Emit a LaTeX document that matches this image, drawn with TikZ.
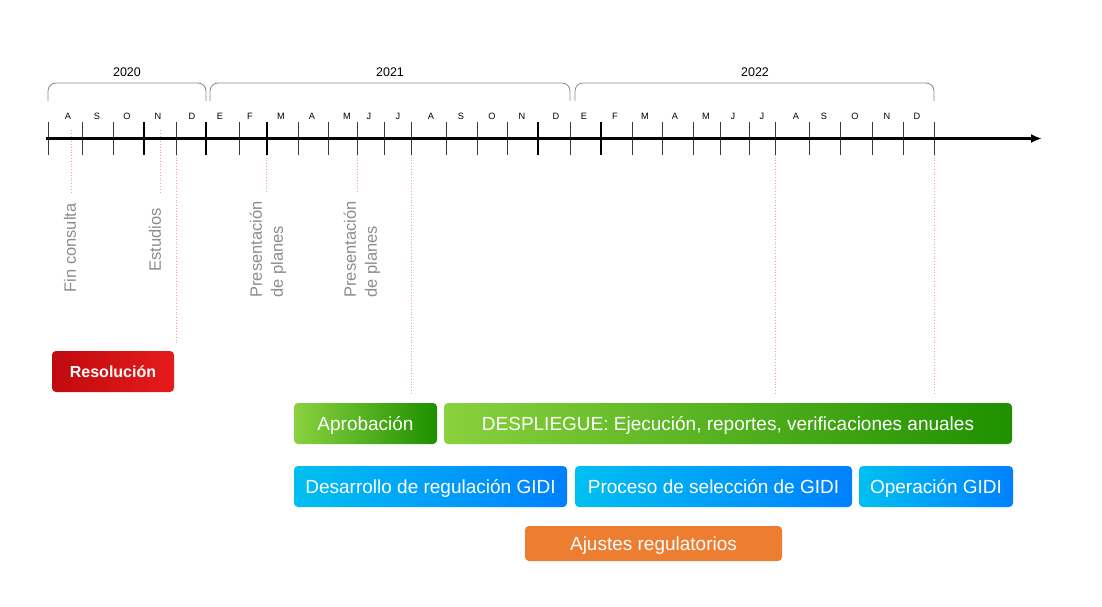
\documentclass[tikz,border=0pt]{standalone}
\usepackage{fontspec}
\setmainfont{Liberation Sans}
\usetikzlibrary{arrows.meta}
\definecolor{tickgray}{HTML}{3A3A3A}
\definecolor{bracegray}{HTML}{8A8A8A}
\definecolor{labelgray}{HTML}{8C8C8C}
\definecolor{pinkline}{HTML}{F2A0A0}
\definecolor{redL}{HTML}{BF0A0E}
\definecolor{redR}{HTML}{E61B1B}
\definecolor{greenL}{HTML}{8AD13E}
\definecolor{greenR}{HTML}{1E9000}
\definecolor{blueL}{HTML}{00C0F0}
\definecolor{blueR}{HTML}{0080FF}
\definecolor{orangebox}{HTML}{ED7D31}
\tikzset{
  thintick/.style={draw=tickgray, line width=0.9pt},
  thicktick/.style={draw=black, line width=2.4pt},
  axisline/.style={draw=black, line width=3pt, -{Latex[length=11pt,width=9pt]}},
  yearbrace/.style={draw=bracegray, line width=0.8pt, rounded corners=8pt},
  monthlbl/.style={font=\fontsize{9.2}{10}\selectfont, text=black, inner sep=0pt},
  yearlbl/.style={font=\fontsize{12.5}{14}\selectfont, text=black, inner sep=0pt},
  marker/.style={draw=pinkline, line width=0.8pt, dotted},
  evtlbl/.style={font=\fontsize{16.5}{21}\selectfont, text=labelgray, rotate=90, align=left, inner sep=0pt},
  bar/.style={rounded corners=4pt, minimum height=41pt, inner sep=0pt, text=white,
    font=\fontsize{19}{22}\selectfont, text height=13.6pt, text depth=0pt},
  greenbar/.style={bar, left color=greenL, right color=greenR},
  bluebar/.style={bar, left color=blueL, right color=blueR},
}
\begin{document}
\begin{tikzpicture}[x=1pt,y=-1pt]
\useasboundingbox (0,0) rectangle (1102,607);

% marker lines
\foreach \n/\x/\ya/\yb in {m1/71/130/193, m2/160/130/193, m3/176/124/345, m4/266/124/193, m5/357/124/193, m6/411/124/393, m7/775/124/393, m8/934/124/393}{
  \coordinate (\n a) at (\x,\ya);
  \coordinate (\n b) at (\x,\yb);
  \draw[marker] (\n a) -- (\n b);
}

% year braces
\draw[yearbrace] (48,101) |- (127,83) -| (206,101);
\draw[yearbrace] (210,101) |- (390,83) -| (570,101);
\draw[yearbrace] (575,101) |- (755,83) -| (934,101);
\node[yearlbl] (y2020) at (127,72) {2020};
\node[yearlbl] (y2021) at (390,72) {2021};
\node[yearlbl] (y2022) at (755,72) {2022};

% ticks
\foreach \x in {48,82,113,176,239,298,328,357,384,411,446,477,507,570,632,662,693,720,749,775,809,840,872,903,934}
  \draw[thintick] (\x,122) -- (\x,155);
\foreach \x in {144,206,267,538,601}
  \draw[thicktick] (\x,122) -- (\x,155);

% axis
\coordinate (axS) at (46,138.5);
\coordinate (axE) at (1042,138.5);
\draw[axisline] (axS) -- (axE);

% month labels
\foreach \x/\m [count=\i] in {68/A,97/S,127/O,158/N,192/D,220/E,250/F,281/M,312/A,347/M,369/J,398/J,431/A,461/S,492/O,522/N,556/D,584/E,615/F,645/M,675/A,706/M,733/J,762/J,796/A,824/S,855/O,887/N,917/D}
  \node[monthlbl] (mo\i) at (\x,116) {\m};

% event labels
\node[evtlbl] (fin) at (70,248) {Fin consulta};
\node[evtlbl] (est) at (155,240) {Estudios};
\node[evtlbl] (pre1) at (268,249.5) {Presentación\\de planes};
\node[evtlbl] (pre2) at (362,249.5) {Presentación\\de planes};

% bars
\node[bar, left color=redL, right color=redR, minimum width=122pt, font=\fontsize{16}{19}\selectfont\bfseries, text height=11.5pt] (res) at (113,371.5) {Resolución};
\node[greenbar, minimum width=143pt] (apr) at (365.5,423.5) {Aprobación};
\node[greenbar, minimum width=568pt] (des) at (728,423.5) {DESPLIEGUE: Ejecución, reportes, verificaciones anuales};
\node[bluebar, minimum width=273pt] (dreg) at (430.5,486.5) {Desarrollo de regulación GIDI};
\node[bluebar, minimum width=277pt] (proc) at (713.5,486.5) {Proceso de selección de GIDI};
\node[bluebar, minimum width=154pt] (oper) at (936,486.5) {Operación GIDI};
\node[bar, fill=orangebox, minimum width=257pt, minimum height=35pt] (aju) at (653.5,543.5) {Ajustes regulatorios};
\end{tikzpicture}
\end{document}
